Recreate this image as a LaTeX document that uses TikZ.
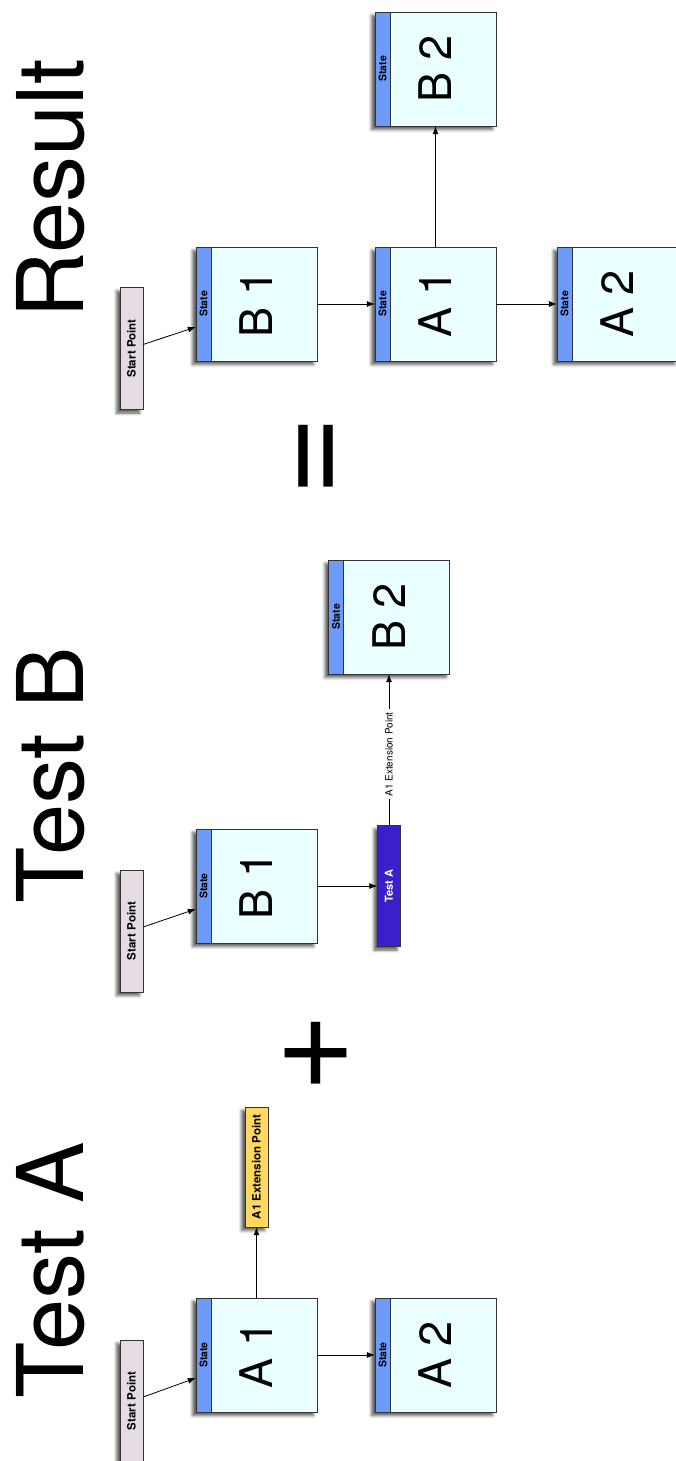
\documentclass[tikz,border=0pt]{standalone}
\usepackage{fontspec}
\setmainfont{TeX Gyre Heros}
\usetikzlibrary{arrows.meta, positioning, calc, shadows.blur}
\definecolor{bodycyan}{HTML}{EAFFFF}
\definecolor{bandblue}{HTML}{6E9BFA}
\definecolor{startgray}{HTML}{E4DBE3}
\definecolor{extyellow}{HTML}{FFD862}
\definecolor{testindigo}{HTML}{3A20C8}
\definecolor{edgegray}{HTML}{333333}

\tikzset{
  boxshadow/.style={blur shadow={shadow xshift=-3.5pt, shadow yshift=-3.5pt, shadow blur radius=3pt, shadow opacity=65}},
  title/.style={rotate=90, anchor=base, inner sep=0pt, font=\fontsize{92}{92}\selectfont},
  sign/.style={rotate=90, anchor=base, inner sep=0pt, font=\fontsize{138}{138}\selectfont},
  statebox/.style={draw=edgegray, fill=bodycyan, rotate=90, minimum width=114pt, minimum height=121pt, inner sep=0pt, font=\fontsize{45}{45}\selectfont, boxshadow},
  stateband/.style={draw=edgegray, fill=bandblue, rotate=90, anchor=north, minimum width=114pt, minimum height=15pt, inner sep=0pt, font=\fontsize{10.5}{10.5}\selectfont\bfseries},
  startbox/.style={draw=edgegray, fill=startgray, rotate=90, minimum width=122pt, minimum height=23pt, inner sep=0pt, font=\fontsize{11.5}{11.5}\selectfont\bfseries, boxshadow},
  extbox/.style={startbox, fill=extyellow, minimum width=120pt},
  testbox/.style={startbox, fill=testindigo, text=white, minimum width=121pt, font=\fontsize{11}{11}\selectfont\bfseries},
  linelabel/.style={fill=white, rotate=90, inner sep=3pt, font=\fontsize{10}{10}\selectfont},
  flow/.style={-{Latex[length=8pt,width=6pt]}, line width=0.8pt}
}

\begin{document}
\begin{tikzpicture}[x=1pt, y=-1pt]
  \useasboundingbox (0,0) rectangle (676,1461);

  % Test A
  \node[title] (titleA) at (83,1270) {Test A};
  \node[startbox] (startA) at (131.5,1401) {Start Point};
  \node[statebox] (a1A) at (256.5,1355) {A 1};
  \node[stateband] (a1Aband) at (a1A.north) {State};
  \node[statebox] (a2A) at (435.5,1355) {A 2};
  \node[stateband] (a2Aband) at (a2A.north) {State};
  \node[extbox] (extA) at (256.5,1167) {A1 Extension Point};
  \draw[flow] ([yshift=4pt]startA.south) -- ([yshift=-23pt]a1A.north);
  \draw[flow] (a1A.south) -- (a2A.north);
  \draw[flow] (a1A.east) -- (extA.west);

  \node[sign] (plus) at (350,1053) {+};

  % Test B
  \node[title] (titleB) at (83,775) {Test B};
  \node[startbox] (startB) at (131.5,931) {Start Point};
  \node[statebox] (b1B) at (256.5,886) {B 1};
  \node[stateband] (b1Bband) at (b1B.north) {State};
  \node[testbox] (testA) at (389,886) {Test A};
  \node[statebox] (b2B) at (389,617) {B 2};
  \node[stateband] (b2Bband) at (b2B.north) {State};
  \draw[flow] ([yshift=4pt]startB.south) -- ([yshift=-23pt]b1B.north);
  \draw[flow] (b1B.south) -- (testA.north);
  \draw[flow] (testA.east) -- node[linelabel, pos=0.47] (extlabel) {A1 Extension Point} (b2B.west);

  \node[sign] (equals) at (350,456) {=};

  % Result
  \node[title] (titleR) at (83,189) {Result};
  \node[startbox] (startR) at (131.5,348.5) {Start Point};
  \node[statebox] (b1R) at (256.5,304) {B 1};
  \node[stateband] (b1Rband) at (b1R.north) {State};
  \node[statebox] (a1R) at (435.5,304) {A 1};
  \node[stateband] (a1Rband) at (a1R.north) {State};
  \node[statebox] (b2R) at (435.5,69) {B 2};
  \node[stateband] (b2Rband) at (b2R.north) {State};
  \node[statebox] (a2R) at (617.5,304) {A 2};
  \node[stateband] (a2Rband) at (a2R.north) {State};
  \draw[flow] ([yshift=4pt]startR.south) -- ([yshift=-23pt]b1R.north);
  \draw[flow] (b1R.south) -- (a1R.north);
  \draw[flow] (a1R.east) -- (b2R.west);
  \draw[flow] (a1R.south) -- (a2R.north);
\end{tikzpicture}
\end{document}
